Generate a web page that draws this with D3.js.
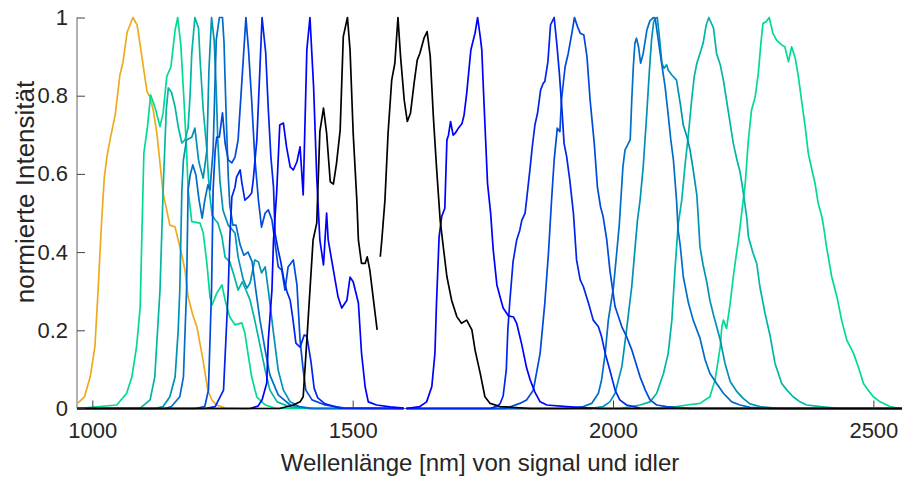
<!DOCTYPE html>
<html>
<head>
<meta charset="utf-8">
<script src="https://cdn.jsdelivr.net/npm/d3@7"></script>
<style>
  body { margin: 0; background: #fff; }
  svg { display: block; }
  text { font-family: "Liberation Sans", Arial, Helvetica, sans-serif; fill: #262626; }
</style>
</head>
<body>
<svg id="chart" width="902" height="477"></svg>
<script>
// Normalised spectra, [wavelength in nm, intensity]
const reference1080 = [[972,0.014],[985,0.03],[996,0.081],[1005,0.158],[1011,0.30],[1018,0.482],[1023,0.59],[1028,0.643],[1034,0.687],[1044,0.751],[1053,0.853],[1059,0.887],[1067,0.963],[1078,1.0],[1086,0.981],[1092,0.929],[1099,0.865],[1105,0.811],[1111,0.796],[1117,0.763],[1124,0.704],[1136,0.551],[1149,0.469],[1159,0.464],[1165,0.431],[1172,0.392],[1178,0.354],[1184,0.285],[1193,0.239],[1201,0.208],[1212,0.128],[1222,0.046],[1230,0.021],[1239,0.009],[1255,0.001],[1284,0],[1598,0]];

const signal1164 = [[971,0],[1047,0.009],[1066,0.039],[1076,0.081],[1085,0.158],[1092,0.26],[1095,0.431],[1099,0.653],[1106,0.721],[1112,0.802],[1120,0.772],[1130,0.721],[1136,0.756],[1143,0.849],[1151,0.874],[1159,0.968],[1164,1.0],[1170,0.93],[1176,0.789],[1181,0.661],[1184,0.559],[1191,0.478],[1207,0.474],[1213,0.449],[1220,0.372],[1226,0.285],[1230,0.265],[1239,0.295],[1249,0.316],[1255,0.277],[1264,0.234],[1274,0.214],[1287,0.219],[1293,0.193],[1300,0.132],[1306,0.081],[1316,0.029],[1332,0.009],[1351,0.001],[1598,0]];
const signal1197 = [[971,0],[1092,0.001],[1111,0.022],[1120,0.081],[1130,0.303],[1136,0.559],[1142,0.763],[1146,0.82],[1152,0.809],[1159,0.771],[1165,0.72],[1172,0.679],[1178,0.687],[1184,0.718],[1188,0.807],[1191,0.909],[1197,1.0],[1204,0.973],[1207,0.891],[1213,0.764],[1220,0.661],[1223,0.592],[1226,0.541],[1230,0.495],[1236,0.482],[1241,0.475],[1249,0.439],[1255,0.387],[1264,0.375],[1272,0.341],[1280,0.303],[1288,0.324],[1295,0.303],[1303,0.277],[1312,0.226],[1322,0.162],[1332,0.098],[1341,0.047],[1355,0.017],[1380,0.004],[1418,0],[1598,0]];
const signal1229 = [[971,0],[1120,0],[1136,0.005],[1149,0.03],[1159,0.081],[1165,0.201],[1168,0.303],[1172,0.559],[1175,0.636],[1181,0.687],[1191,0.694],[1197,0.717],[1204,0.636],[1207,0.618],[1213,0.589],[1220,0.661],[1224,0.866],[1229,1.0],[1234,0.942],[1238,0.815],[1241,0.687],[1245,0.584],[1251,0.507],[1261,0.469],[1274,0.449],[1280,0.387],[1290,0.329],[1297,0.308],[1303,0.321],[1312,0.38],[1319,0.375],[1325,0.347],[1332,0.362],[1338,0.303],[1348,0.193],[1357,0.098],[1367,0.047],[1380,0.017],[1399,0.004],[1428,0],[1598,0]];
const signal1249 = [[971,0],[1140,0],[1152,0.005],[1168,0.03],[1175,0.081],[1181,0.303],[1184,0.559],[1188,0.597],[1193,0.623],[1199,0.597],[1205,0.533],[1211,0.487],[1216,0.533],[1222,0.572],[1226,0.559],[1232,0.661],[1238,0.942],[1244,1.0],[1250,1.0],[1253,0.935],[1255,0.84],[1258,0.712],[1261,0.597],[1264,0.521],[1270,0.469],[1276,0.469],[1284,0.418],[1291,0.392],[1299,0.4],[1307,0.375],[1314,0.303],[1322,0.226],[1332,0.149],[1341,0.086],[1357,0.035],[1380,0.009],[1418,0],[1598,0]];
const signal1294 = [[971,0],[1197,0],[1216,0.005],[1223,0.047],[1229,0.303],[1232,0.559],[1236,0.661],[1239,0.694],[1244,0.694],[1250,0.756],[1255,0.679],[1261,0.636],[1268,0.628],[1274,0.643],[1280,0.687],[1287,0.832],[1295,1.0],[1300,0.917],[1306,0.789],[1312,0.643],[1319,0.533],[1325,0.464],[1332,0.5],[1338,0.508],[1345,0.482],[1351,0.423],[1357,0.362],[1364,0.354],[1370,0.303],[1376,0.362],[1386,0.38],[1393,0.316],[1399,0.175],[1405,0.098],[1410,0.047],[1422,0.022],[1447,0.009],[1485,0.001],[1598,0]];
const signal1326 = [[971,0],[1216,0],[1236,0.005],[1252,0.047],[1261,0.303],[1264,0.431],[1268,0.541],[1274,0.566],[1277,0.592],[1284,0.61],[1287,0.579],[1293,0.533],[1300,0.541],[1306,0.551],[1309,0.584],[1316,0.687],[1322,0.873],[1326,1.0],[1333,0.91],[1338,0.765],[1343,0.643],[1348,0.566],[1351,0.448],[1357,0.405],[1362,0.375],[1368,0.329],[1374,0.298],[1380,0.277],[1385,0.231],[1391,0.167],[1399,0.157],[1407,0.188],[1412,0.185],[1420,0.119],[1426,0.052],[1433,0.027],[1447,0.012],[1476,0.001],[1598,0]];
const signal1418 = [[971,0],[1303,0],[1318,0.006],[1326,0.022],[1335,0.065],[1338,0.175],[1345,0.303],[1348,0.431],[1354,0.551],[1360,0.725],[1367,0.73],[1373,0.669],[1380,0.618],[1386,0.61],[1393,0.631],[1399,0.669],[1405,0.546],[1412,0.917],[1418,1.0],[1425,0.822],[1431,0.592],[1437,0.431],[1444,0.367],[1450,0.5],[1453,0.431],[1463,0.354],[1472,0.285],[1479,0.257],[1489,0.277],[1495,0.336],[1501,0.324],[1511,0.27],[1517,0.142],[1524,0.055],[1530,0.017],[1546,0.009],[1572,0.004],[1598,0.001]];
const signal1490 = [[971,0],[1360,0],[1386,0.009],[1399,0.017],[1405,0.03],[1412,0.175],[1418,0.303],[1424,0.431],[1431,0.474],[1437,0.708],[1444,0.768],[1450,0.704],[1457,0.58],[1463,0.574],[1469,0.627],[1476,0.712],[1482,0.951],[1490,1.0],[1495,0.917],[1501,0.704],[1508,0.533],[1511,0.431],[1517,0.371],[1524,0.371],[1528,0.388],[1533,0.354],[1540,0.277],[1547,0.201]];

const idler1587 = [[1553,0.388],[1556,0.431],[1562,0.533],[1568,0.704],[1575,0.84],[1581,0.883],[1587,1.0],[1592,0.9],[1599,0.789],[1605,0.734],[1611,0.755],[1618,0.832],[1624,0.891],[1629,0.908],[1637,0.947],[1643,0.964],[1649,0.9],[1655,0.746],[1661,0.618],[1668,0.482],[1674,0.414],[1681,0.337],[1690,0.277],[1700,0.235],[1709,0.218],[1719,0.226],[1729,0.201],[1735,0.15],[1745,0.09],[1754,0.03],[1764,0.013],[1783,0.005],[1841,0],[2555,0]];
const idler1740 = [[1603,0],[1629,0.005],[1642,0.017],[1652,0.056],[1658,0.141],[1661,0.269],[1666,0.439],[1671,0.491],[1677,0.512],[1681,0.687],[1684,0.699],[1688,0.734],[1693,0.699],[1697,0.704],[1703,0.717],[1710,0.729],[1714,0.751],[1719,0.806],[1727,0.917],[1735,0.96],[1740,1.0],[1745,0.951],[1748,0.917],[1752,0.789],[1759,0.576],[1765,0.499],[1770,0.405],[1777,0.316],[1783,0.286],[1789,0.257],[1799,0.237],[1809,0.234],[1815,0.218],[1825,0.162],[1834,0.104],[1841,0.073],[1850,0.042],[1860,0.017],[1873,0.009],[1911,0.005],[1975,0],[2555,0]];
const idler1887 = [[1603,0],[1764,0],[1777,0.006],[1783,0.012],[1789,0.032],[1795,0.098],[1798,0.201],[1802,0.277],[1808,0.375],[1815,0.431],[1821,0.456],[1825,0.482],[1831,0.499],[1834,0.533],[1841,0.618],[1845,0.67],[1850,0.725],[1855,0.755],[1861,0.815],[1866,0.832],[1869,0.836],[1875,0.887],[1880,0.981],[1887,1.0],[1892,0.934],[1897,0.857],[1902,0.763],[1906,0.678],[1911,0.644],[1917,0.584],[1924,0.499],[1930,0.38],[1937,0.329],[1943,0.312],[1953,0.269],[1962,0.226],[1972,0.209],[1978,0.184],[1985,0.141],[1994,0.098],[2004,0.047],[2013,0.022],[2026,0.009],[2052,0.001],[2555,0]];
const idler1926 = [[1603,0],[1793,0],[1821,0.013],[1834,0.022],[1847,0.047],[1860,0.141],[1869,0.269],[1876,0.397],[1882,0.533],[1887,0.636],[1893,0.717],[1898,0.708],[1901,0.789],[1908,0.874],[1914,0.908],[1921,0.96],[1926,1.0],[1932,0.976],[1937,0.96],[1944,0.955],[1950,0.9],[1956,0.789],[1964,0.678],[1970,0.567],[1976,0.516],[1981,0.491],[1988,0.431],[1994,0.354],[2004,0.26],[2017,0.209],[2026,0.184],[2036,0.15],[2046,0.107],[2052,0.081],[2062,0.047],[2071,0.022],[2084,0.009],[2103,0.005],[2148,0],[2555,0]];
const idler2079 = [[1603,0],[1917,0],[1943,0.005],[1959,0.013],[1972,0.039],[1978,0.073],[1985,0.141],[1991,0.226],[2001,0.312],[2007,0.397],[2012,0.469],[2019,0.618],[2023,0.661],[2028,0.674],[2033,0.687],[2036,0.789],[2039,0.874],[2042,0.934],[2045,0.947],[2049,0.925],[2053,0.883],[2058,0.908],[2065,0.968],[2071,0.992],[2078,1.0],[2081,0.998],[2087,0.942],[2093,0.886],[2100,0.823],[2106,0.751],[2111,0.687],[2116,0.636],[2122,0.533],[2125,0.456],[2129,0.418],[2135,0.337],[2145,0.269],[2154,0.226],[2167,0.18],[2177,0.124],[2186,0.09],[2199,0.064],[2212,0.039],[2228,0.017],[2244,0.009],[2263,0.003],[2302,0],[2555,0]];
const idler2084 = [[1603,0],[1956,0],[1981,0.005],[1994,0.017],[2004,0.039],[2017,0.107],[2026,0.201],[2036,0.312],[2042,0.405],[2047,0.482],[2052,0.533],[2058,0.618],[2065,0.758],[2070,0.866],[2074,0.942],[2078,0.988],[2081,0.998],[2085,1.0],[2089,0.951],[2094,0.883],[2098,0.87],[2103,0.879],[2106,0.866],[2113,0.853],[2122,0.84],[2129,0.781],[2135,0.725],[2142,0.695],[2148,0.661],[2154,0.61],[2161,0.546],[2164,0.482],[2167,0.414],[2173,0.367],[2180,0.324],[2186,0.277],[2193,0.239],[2206,0.175],[2215,0.116],[2225,0.069],[2238,0.043],[2250,0.026],[2263,0.012],[2282,0.005],[2321,0],[2555,0]];
const idler2186 = [[1603,0],[2013,0],[2052,0.009],[2071,0.017],[2084,0.039],[2097,0.09],[2106,0.141],[2113,0.226],[2119,0.354],[2125,0.469],[2132,0.533],[2138,0.618],[2145,0.704],[2151,0.789],[2156,0.849],[2161,0.883],[2167,0.908],[2173,0.934],[2179,0.981],[2184,1.0],[2193,0.973],[2199,0.907],[2206,0.879],[2212,0.84],[2218,0.789],[2225,0.729],[2231,0.678],[2238,0.636],[2244,0.605],[2250,0.554],[2257,0.487],[2260,0.439],[2269,0.397],[2276,0.371],[2282,0.312],[2292,0.243],[2302,0.184],[2311,0.116],[2324,0.064],[2334,0.047],[2346,0.03],[2359,0.017],[2372,0.009],[2398,0.005],[2436,0],[2555,0]];
const idler2300 = [[1603,0],[2090,0],[2122,0.005],[2142,0.009],[2167,0.013],[2186,0.03],[2196,0.073],[2202,0.124],[2206,0.158],[2209,0.209],[2212,0.226],[2218,0.205],[2225,0.269],[2231,0.337],[2238,0.405],[2241,0.431],[2247,0.499],[2254,0.576],[2260,0.687],[2266,0.763],[2273,0.797],[2279,0.857],[2284,0.934],[2288,0.985],[2294,0.989],[2300,1.0],[2307,0.96],[2314,0.942],[2324,0.93],[2330,0.925],[2337,0.887],[2343,0.925],[2350,0.896],[2356,0.849],[2362,0.789],[2369,0.721],[2375,0.653],[2382,0.61],[2388,0.576],[2394,0.525],[2401,0.491],[2404,0.469],[2410,0.414],[2420,0.337],[2430,0.286],[2439,0.226],[2449,0.175],[2462,0.141],[2471,0.107],[2481,0.064],[2490,0.047],[2500,0.03],[2513,0.017],[2532,0.005],[2551,0]];

const wavelengthTicks = [1000, 1500, 2000, 2500];
const intensityTicks = [0, 0.2, 0.4, 0.6, 0.8, 1];

// Signal/idler pairs, ordered from the longest signal wavelength (blue)
// to the shortest (green); the pair index sets the colour.
const pairs = [
  [signal1418, idler1740],
  [signal1326, idler1887],
  [signal1294, idler1926],
  [signal1249, idler2079],
  [signal1229, idler2084],
  [signal1197, idler2186],
  [signal1164, idler2300]
];

const svg = d3.select("#chart");
const x = d3.scaleLinear().domain([970.6, 2555]).range([77, 902]);
const y = d3.scaleLinear().domain([0, 1]).range([408.5, 17.5]);

// winter-style colour ramp: blue -> green
const ramp = t => d3.rgb(0, Math.round(255 * t), Math.round(255 * (1 - t / 2))).toString();

// axis lines
svg.append("line").attr("x1", 77).attr("x2", 902).attr("y1", 408.5).attr("y2", 408.5)
  .attr("stroke", "#666").attr("stroke-width", 1);
svg.append("line").attr("x1", 77).attr("x2", 77).attr("y1", 17.5).attr("y2", 408.5)
  .attr("stroke", "#666").attr("stroke-width", 1);

const line = d3.line().x(d => x(d[0])).y(d => y(d[1]));
const plot = svg.append("g");

function drawSpectrum(data, colour) {
  plot.append("path").datum(data)
    .attr("d", line)
    .attr("fill", "none")
    .attr("stroke", colour)
    .attr("stroke-width", 1.7)
    .attr("stroke-linejoin", "round");
}

drawSpectrum(reference1080, "#EEAA1E");
for (let i = pairs.length - 1; i >= 0; i--) {
  const c = ramp(i / 7);
  drawSpectrum(pairs[i][0], c);
  drawSpectrum(pairs[i][1], c);
}
drawSpectrum(signal1490, "#000");
drawSpectrum(idler1587, "#000");

// axes (ticks pointing into the plot)
const tickFont = "'Liberation Sans', Arial, sans-serif";
const yAxis = d3.axisLeft(y).tickValues(intensityTicks).tickSize(-8).tickPadding(9)
  .tickFormat(d => String(d));
const gy = svg.append("g").attr("transform", "translate(77,0)").call(yAxis);
gy.select(".domain").remove();
gy.selectAll(".tick line").attr("stroke", "#444");
gy.selectAll(".tick text").attr("font-size", 22).attr("fill", "#262626")
  .style("font-family", tickFont);

const xAxis = d3.axisBottom(x).tickValues(wavelengthTicks).tickSize(-8).tickPadding(14)
  .tickFormat(d => String(d));
const gx = svg.append("g").attr("transform", "translate(0,408.5)").call(xAxis);
gx.select(".domain").remove();
gx.selectAll(".tick line").attr("stroke", "#444");
gx.selectAll(".tick text").attr("font-size", 22).attr("fill", "#262626")
  .style("font-family", tickFont);

// axis titles
svg.append("text").attr("x", 480).attr("y", 471)
  .attr("text-anchor", "middle").attr("font-size", 24)
  .text("Wellenlänge [nm] von signal und idler");
svg.append("text").attr("transform", "translate(34,192) rotate(-90)")
  .attr("text-anchor", "middle").attr("font-size", 26)
  .text("normierte Intensität");
</script>
</body>
</html>
